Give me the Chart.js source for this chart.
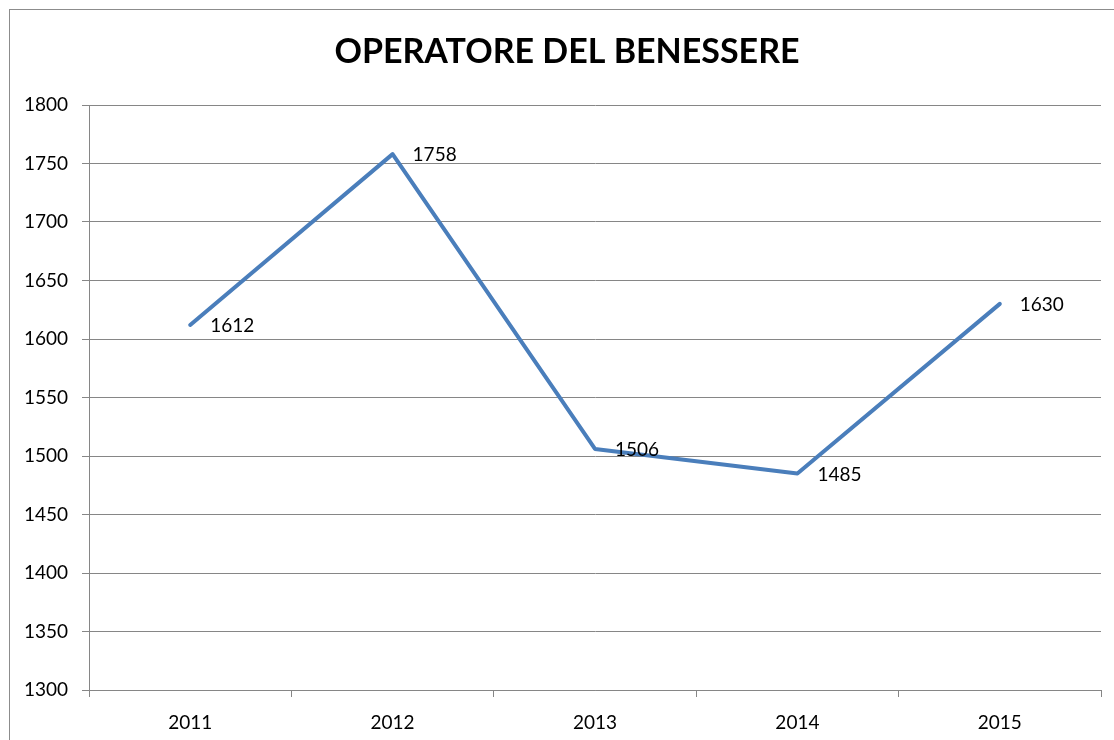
<!DOCTYPE html>
<html>
<head>
<meta charset="utf-8">
<script src="https://cdn.jsdelivr.net/npm/chart.js@4"></script>
<style>
  html, body { margin: 0; padding: 0; background: #ffffff; overflow: hidden; }
  #frame { position: absolute; left: 9px; top: 9px; width: 1200px; height: 800px;
           border-left: 1px solid #8c8c8c; border-top: 1px solid #8c8c8c; }
  #c { position: absolute; left: 0; top: 0; }
</style>
</head>
<body>
<div id="frame"></div>
<canvas id="c" width="1114" height="740"></canvas>
<script>
const TITLE = 'OPERATORE DEL BENESSERE';
const categories = ['2011', '2012', '2013', '2014', '2015'];
const values = [1612, 1758, 1506, 1485, 1630];
const yMin = 1300;
const yMax = 1800;
const yStep = 50;

const FONT = 'Lato';
const GRID = '#868686';

const dataLabels = {
  id: 'dataLabels',
  afterDatasetsDraw(chart) {
    const ctx = chart.ctx;
    const meta = chart.getDatasetMeta(0);
    ctx.save();
    ctx.font = '19px ' + FONT;
    ctx.fillStyle = '#000';
    ctx.textAlign = 'left';
    ctx.textBaseline = 'middle';
    meta.data.forEach((pt, i) => {
      ctx.fillText(String(values[i]), pt.x + 20, pt.y + 1);
    });
    ctx.restore();
  }
};

// Title centred over the whole (partly off-screen) chart frame
const frameTitle = {
  id: 'frameTitle',
  afterDraw(chart) {
    const ctx = chart.ctx;
    ctx.save();
    ctx.font = 'bold 34px ' + FONT;
    ctx.fillStyle = '#000';
    ctx.textAlign = 'center';
    ctx.textBaseline = 'middle';
    ctx.fillText(TITLE, 567, 52);
    ctx.restore();
  }
};

new Chart(document.getElementById('c'), {
  type: 'line',
  data: {
    labels: categories,
    datasets: [{
      data: values,
      borderColor: '#4a7ebb',
      borderWidth: 4,
      pointRadius: 0,
      tension: 0,
      borderCapStyle: 'round',
      borderJoinStyle: 'round'
    }]
  },
  options: {
    responsive: false,
    animation: false,
    devicePixelRatio: 1,
    layout: { padding: { left: 0, right: 13, top: 105, bottom: 0 } },
    plugins: {
      legend: { display: false },
      tooltip: { enabled: false },
      title: { display: false }
    },
    scales: {
      x: {
        offset: true,
        grid: { display: true, drawOnChartArea: false, drawTicks: true, tickLength: 7, offset: true, color: GRID, lineWidth: 1 },
        border: { display: true, color: GRID, width: 1 },
        ticks: { color: '#000', font: { family: FONT, size: 19 }, padding: 14, maxRotation: 0 },
        afterFit(scale) { scale.height = 50; }
      },
      y: {
        min: yMin,
        max: yMax,
        grid: { color: GRID, lineWidth: 1, drawTicks: true, tickLength: 7 },
        border: { display: true, color: GRID, width: 1 },
        ticks: { stepSize: yStep, color: '#000', font: { family: FONT, size: 19 }, padding: 14,
                 callback: (v) => String(v) },
        afterFit(scale) { scale.width = 89; }
      }
    }
  },
  plugins: [dataLabels, frameTitle]
});
</script>
</body>
</html>
